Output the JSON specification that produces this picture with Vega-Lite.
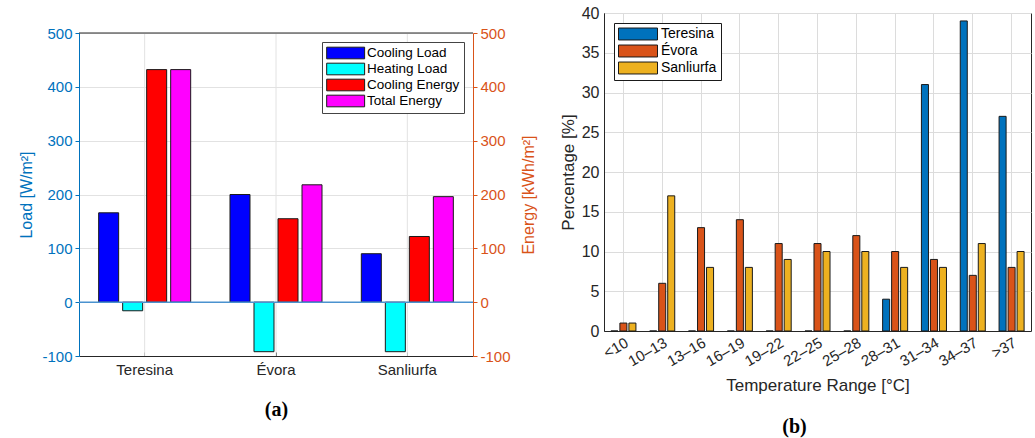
{
  "$schema": "https://vega.github.io/schema/vega-lite/v6.json",
  "background": "white",
  "padding": {"top": 4, "left": 18, "right": 0, "bottom": 0},
  "spacing": 21,
  "config": {
    "font": "Liberation Sans",
    "view": {"stroke": "#262626", "strokeWidth": 1},
    "axis": {"labelFont": "Liberation Sans", "titleFont": "Liberation Sans", "titleFontWeight": "normal"},
    "legend": {"labelFont": "Liberation Sans"}
  },
  "resolve": {"scale": {"color": "independent", "xOffset": "independent", "x": "independent", "y": "independent"}, "legend": {"color": "independent"}},
  "hconcat": [
    {
      "width": 394,
      "height": 343,
      "view": {"stroke": null},
      "data": {"values": [
        {"city": "Teresina", "type": "Cooling Load", "value": 166},
        {"city": "Teresina", "type": "Heating Load", "value": -16},
        {"city": "Teresina", "type": "Cooling Energy", "value": 432},
        {"city": "Teresina", "type": "Total Energy", "value": 432},
        {"city": "Évora", "type": "Cooling Load", "value": 200},
        {"city": "Évora", "type": "Heating Load", "value": -92},
        {"city": "Évora", "type": "Cooling Energy", "value": 155},
        {"city": "Évora", "type": "Total Energy", "value": 218},
        {"city": "Sanliurfa", "type": "Cooling Load", "value": 90},
        {"city": "Sanliurfa", "type": "Heating Load", "value": -92},
        {"city": "Sanliurfa", "type": "Cooling Energy", "value": 122},
        {"city": "Sanliurfa", "type": "Total Energy", "value": 196}
      ]},
      "layer": [
        {
          "data": {"values": [{"city": "Teresina"}, {"city": "Évora"}, {"city": "Sanliurfa"}]},
          "mark": {"type": "rule", "color": "#e2e2e2", "strokeWidth": 1},
          "encoding": {
            "x": {
              "field": "city", "type": "nominal", "sort": null,
              "scale": {"type": "band", "paddingInner": 0.269, "paddingOuter": 0.1345},
              "axis": {
                "title": "(a)", "titleFont": "Liberation Serif", "titleFontWeight": "bold",
                "titleFontSize": 20, "titleColor": "black", "titlePadding": 22,
                "labelAngle": 0, "labelAlign": "center", "labelBaseline": "top",
                "labelFontSize": 15, "labelColor": "#262626", "labelPadding": 10,
                "ticks": true, "tickSize": -4, "tickColor": "#262626",
                "domainColor": "#262626", "grid": false, "bandPosition": 0.5
              }
            },
            "y": {"datum": -100, "type": "quantitative", "axis": null},
            "y2": {"datum": 500}
          }
        },
        {
          "mark": {"type": "bar", "stroke": "#1a1a1a", "strokeWidth": 1},
          "encoding": {
            "x": {
              "field": "city", "type": "nominal", "sort": null,
              "scale": {"type": "band", "paddingInner": 0.269, "paddingOuter": 0.1345},
              "axis": {
                "title": "(a)", "titleFont": "Liberation Serif", "titleFontWeight": "bold",
                "titleFontSize": 20, "titleColor": "black", "titlePadding": 22,
                "labelAngle": 0, "labelAlign": "center", "labelBaseline": "top",
                "labelFontSize": 15, "labelColor": "#262626", "labelPadding": 10,
                "ticks": true, "tickSize": -4, "tickColor": "#262626",
                "domainColor": "#262626", "grid": false, "bandPosition": 0.5
              }
            },
            "xOffset": {"field": "type", "type": "nominal", "sort": null, "scale": {"paddingInner": 0.167, "paddingOuter": 0.083}},
            "y": {
              "field": "value", "type": "quantitative",
              "scale": {"domain": [-100, 500], "nice": false, "zero": false, "range": [343, 20]},
              "axis": {
                "title": "Load [W/m²]", "orient": "left", "values": [-100, 0, 100, 200, 300, 400, 500],
                "labelExpr": "replace(datum.label, '\u2212', '-')",
                "titleFontSize": 16, "titleColor": "#0072BD", "titlePadding": 7,
                "labelFontSize": 15, "labelColor": "#0072BD", "labelPadding": 3,
                "domainColor": "#0072BD", "tickColor": "#0072BD", "tickSize": 4,
                "grid": true, "gridColor": "#e2e2e2"
              }
            },
            "color": {
              "field": "type", "type": "nominal", "sort": null,
              "scale": {"domain": ["Cooling Load", "Heating Load", "Cooling Energy", "Total Energy"], "range": ["#0000FF", "#00FFFF", "#FF0000", "#FF00FF"]},
              "legend": {
                "title": null, "orient": "none", "legendX": 243, "legendY": 29,
                "symbolType": "M-1,-0.92H5V0.92H-1Z", "symbolSize": 160,
                "symbolStrokeColor": "#1a1a1a", "symbolStrokeWidth": 1, "symbolOpacity": 1,
                "labelFontSize": 13.5, "labelColor": "black", "labelLimit": 300,
                "strokeColor": "#444444", "fillColor": "white", "padding": 4, "rowPadding": 0, "labelOffset": 27
              }
            }
          }
        },
        {
          "data": {"values": [{"ref": 0}]},
          "mark": {"type": "rule", "color": "#4a92cf", "strokeWidth": 1.5},
          "encoding": {
            "y": {
              "field": "ref", "type": "quantitative",
              "axis": {
                "title": "Energy [kWh/m²]", "orient": "right", "values": [-100, 0, 100, 200, 300, 400, 500],
                "labelExpr": "replace(datum.label, '\u2212', '-')",
                "titleFontSize": 16, "titleColor": "#D95319", "titlePadding": 10, "titleAngle": 270, "titleBaseline": "top",
                "labelFontSize": 15, "labelColor": "#D95319", "labelPadding": 3,
                "domainColor": "#D95319", "tickColor": "#D95319", "tickSize": 4, "grid": false
              }
            }
          }
        },
        {
          "data": {"values": [{"ref": 500}]},
          "mark": {"type": "rule", "color": "#262626", "strokeWidth": 1},
          "encoding": {
            "y": {"field": "ref", "type": "quantitative", "axis": null}
          }
        }
      ],
      "resolve": {"axis": {"y": "independent"}}
    },
    {
      "width": 427,
      "height": 318,
      "title": {"text": "(b)", "orient": "bottom", "font": "Liberation Serif", "fontWeight": "bold", "fontSize": 20, "color": "black", "offset": 23, "dx": -23},
      "data": {"values": [
        {"range": "<10", "city": "Teresina", "pct": 0},
        {"range": "<10", "city": "Évora", "pct": 1},
        {"range": "<10", "city": "Sanliurfa", "pct": 1},
        {"range": "10–13", "city": "Teresina", "pct": 0},
        {"range": "10–13", "city": "Évora", "pct": 6},
        {"range": "10–13", "city": "Sanliurfa", "pct": 17},
        {"range": "13–16", "city": "Teresina", "pct": 0},
        {"range": "13–16", "city": "Évora", "pct": 13},
        {"range": "13–16", "city": "Sanliurfa", "pct": 8},
        {"range": "16–19", "city": "Teresina", "pct": 0},
        {"range": "16–19", "city": "Évora", "pct": 14},
        {"range": "16–19", "city": "Sanliurfa", "pct": 8},
        {"range": "19–22", "city": "Teresina", "pct": 0},
        {"range": "19–22", "city": "Évora", "pct": 11},
        {"range": "19–22", "city": "Sanliurfa", "pct": 9},
        {"range": "22–25", "city": "Teresina", "pct": 0},
        {"range": "22–25", "city": "Évora", "pct": 11},
        {"range": "22–25", "city": "Sanliurfa", "pct": 10},
        {"range": "25–28", "city": "Teresina", "pct": 0},
        {"range": "25–28", "city": "Évora", "pct": 12},
        {"range": "25–28", "city": "Sanliurfa", "pct": 10},
        {"range": "28–31", "city": "Teresina", "pct": 4},
        {"range": "28–31", "city": "Évora", "pct": 10},
        {"range": "28–31", "city": "Sanliurfa", "pct": 8},
        {"range": "31–34", "city": "Teresina", "pct": 31},
        {"range": "31–34", "city": "Évora", "pct": 9},
        {"range": "31–34", "city": "Sanliurfa", "pct": 8},
        {"range": "34–37", "city": "Teresina", "pct": 39},
        {"range": "34–37", "city": "Évora", "pct": 7},
        {"range": "34–37", "city": "Sanliurfa", "pct": 11},
        {"range": ">37", "city": "Teresina", "pct": 27},
        {"range": ">37", "city": "Évora", "pct": 8},
        {"range": ">37", "city": "Sanliurfa", "pct": 10}
      ]},
      "mark": {"type": "bar", "stroke": "#1a1a1a", "strokeWidth": 1},
      "encoding": {
        "x": {
          "field": "range", "type": "nominal", "sort": null,
          "scale": {"paddingInner": 0.304, "paddingOuter": 0.152},
          "axis": {
            "title": "Temperature Range [°C]", "titleFontSize": 17, "titleColor": "#262626", "titlePadding": 9,
            "labelAngle": -30, "labelFontSize": 15, "labelColor": "#262626", "labelPadding": 4,
            "ticks": false, "domainColor": "#262626",
            "grid": true, "gridColor": "#dcdcdc", "bandPosition": 0.5
          }
        },
        "xOffset": {"field": "city", "type": "nominal", "sort": null, "scale": {"paddingInner": 0.22, "paddingOuter": 0.11}},
        "y": {
          "field": "pct", "type": "quantitative",
          "scale": {"domain": [0, 40], "nice": false},
          "axis": {
            "title": "Percentage [%]", "values": [0, 5, 10, 15, 20, 25, 30, 35, 40],
            "titleFontSize": 17, "titleColor": "#262626", "titlePadding": 4,
            "labelFontSize": 16, "labelColor": "#262626", "labelPadding": 5,
            "ticks": false, "domainColor": "#262626",
            "grid": true, "gridColor": "#dcdcdc"
          }
        },
        "color": {
          "field": "city", "type": "nominal", "sort": null,
          "scale": {"domain": ["Teresina", "Évora", "Sanliurfa"], "range": ["#0072BD", "#D95319", "#EDB120"]},
          "legend": {
            "title": null, "orient": "top-left", "offset": 10,
            "symbolType": "M-1,-0.92H5V0.92H-1Z", "symbolSize": 169,
            "symbolStrokeColor": "#1a1a1a", "symbolStrokeWidth": 1, "symbolOpacity": 1,
            "labelFontSize": 14, "labelColor": "black", "labelLimit": 300,
            "strokeColor": "#1a1a1a", "fillColor": "white", "padding": 4, "rowPadding": 1, "labelOffset": 29
          }
        }
      }
    }
  ]
}
